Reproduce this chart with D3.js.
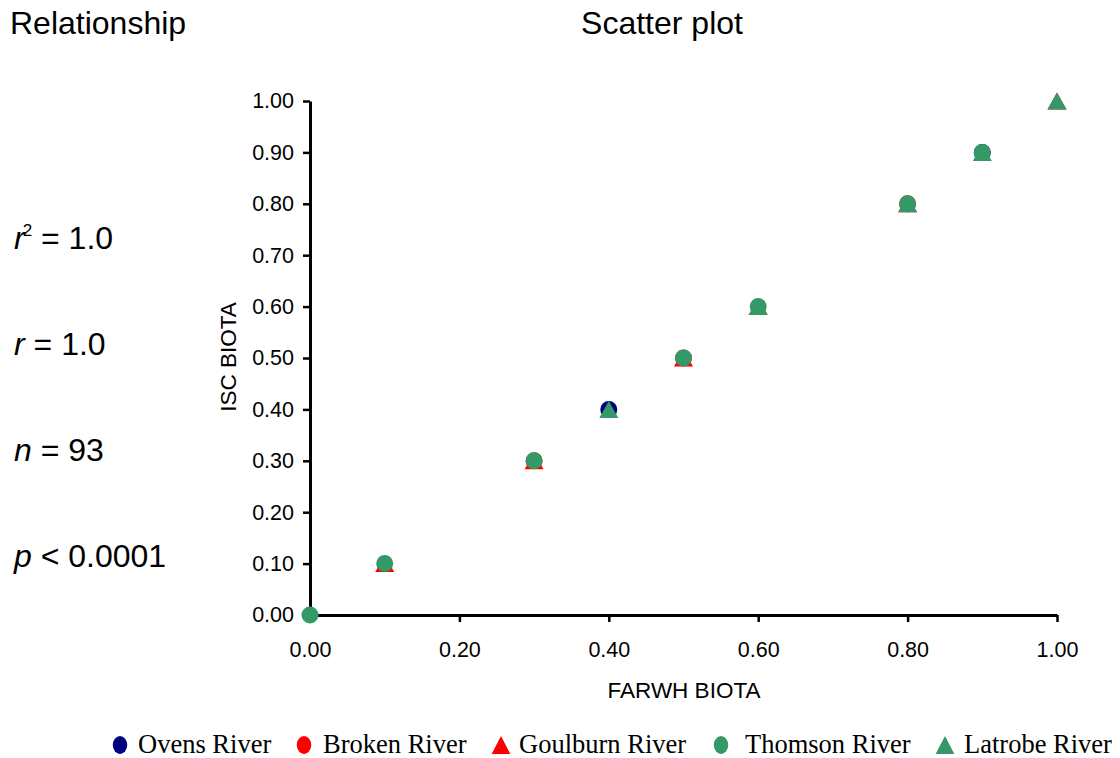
<!DOCTYPE html>
<html>
<head>
<meta charset="utf-8">
<script src="https://cdn.jsdelivr.net/npm/d3@7"></script>
<style>
  html, body { margin: 0; padding: 0; background: #fff; }
  svg { display: block; }
</style>
</head>
<body>
<svg id="chart" width="1120" height="758"></svg>
<script>
// Paired FARWH / ISC biota scores per river
const seriesNames = ["Ovens River", "Broken River", "Goulburn River", "Thomson River", "Latrobe River"];
const ovensX = [0.40, 0.90];
const ovensY = [0.40, 0.90];
const brokenX = [0.30, 0.50, 0.80];
const brokenY = [0.30, 0.50, 0.80];
const goulburnX = [0.10, 0.30, 0.50, 0.60, 0.80, 1.00];
const goulburnY = [0.10, 0.30, 0.50, 0.60, 0.80, 1.00];
const thomsonX = [0.00, 0.10, 0.30, 0.50, 0.60, 0.80, 0.90];
const thomsonY = [0.00, 0.10, 0.30, 0.50, 0.60, 0.80, 0.90];
const latrobeX = [0.40, 0.60, 0.80, 0.90, 1.00];
const latrobeY = [0.40, 0.60, 0.80, 0.90, 1.00];

const xTicks = [0, 0.2, 0.4, 0.6, 0.8, 1.0];
const yTicks = [0, 0.1, 0.2, 0.3, 0.4, 0.5, 0.6, 0.7, 0.8, 0.9, 1.0];

const stats = [
  { sym: "r", sup: "2", rest: " = 1.0" },
  { sym: "r", sup: "", rest: " = 1.0" },
  { sym: "n", sup: "", rest: " = 93" },
  { sym: "p", sup: "", rest: " < 0.0001" }
];

const series = [
  { name: seriesNames[0], xs: ovensX, ys: ovensY, shape: "circle", color: "#000080" },
  { name: seriesNames[1], xs: brokenX, ys: brokenY, shape: "circle", color: "#ff0000" },
  { name: seriesNames[2], xs: goulburnX, ys: goulburnY, shape: "triangle", color: "#ff0000" },
  { name: seriesNames[3], xs: thomsonX, ys: thomsonY, shape: "circle", color: "#339966" },
  { name: seriesNames[4], xs: latrobeX, ys: latrobeY, shape: "triangle", color: "#339966" }
];

const SANS = "'Liberation Sans', Arial, Helvetica, sans-serif";
const SERIF = "'Liberation Serif', 'Times New Roman', serif";

const svg = d3.select("#chart");

const plot = { left: 310, right: 1057, top: 101, bottom: 615 };
const x = d3.scaleLinear().domain([0, 1]).range([plot.left, plot.right]);
const y = d3.scaleLinear().domain([0, 1]).range([plot.bottom, plot.top]);

// Titles
svg.append("text").attr("x", 10).attr("y", 34)
  .style("font-family", SANS).style("font-size", "32px").attr("fill", "#000")
  .text("Relationship");
svg.append("text").attr("x", 662).attr("y", 34).attr("text-anchor", "middle")
  .style("font-family", SANS).style("font-size", "32px").attr("fill", "#000")
  .text("Scatter plot");

// Statistics block
const statY = [249, 355, 461, 567];
stats.forEach((s, i) => {
  const t = svg.append("text").attr("x", 14).attr("y", statY[i])
    .style("font-family", SANS).style("font-size", "32px").attr("fill", "#000");
  t.append("tspan").style("font-style", "italic").text(s.sym);
  if (s.sup) {
    t.append("tspan").attr("dx", -2).attr("dy", -13).style("font-size", "17px").text(s.sup);
    t.append("tspan").attr("dy", 13).text(s.rest);
  } else {
    t.append("tspan").text(s.rest);
  }
});

// Axes
const fmt = d3.format(".2f");
const gx = svg.append("g").attr("transform", `translate(0,${plot.bottom})`)
  .call(d3.axisBottom(x).tickValues(xTicks).tickFormat(fmt).tickSize(7).tickSizeOuter(0).tickPadding(20));
const gy = svg.append("g").attr("transform", `translate(${plot.left},0)`)
  .call(d3.axisLeft(y).tickValues(yTicks).tickFormat(fmt).tickSize(7).tickSizeOuter(0).tickPadding(9));

[gx, gy].forEach(g => {
  g.select(".domain").attr("stroke", "#000").attr("stroke-width", 3);
  g.selectAll(".tick line").attr("stroke", "#000").attr("stroke-width", 2.5);
  g.selectAll(".tick text").attr("fill", "#000")
    .style("font-family", SANS).style("font-size", "21.5px");
});

// Axis titles
svg.append("text").attr("x", 684).attr("y", 698).attr("text-anchor", "middle")
  .style("font-family", SANS).style("font-size", "22.5px").attr("fill", "#000")
  .text("FARWH BIOTA");
svg.append("text").attr("transform", "translate(236,357) rotate(-90)").attr("text-anchor", "middle")
  .style("font-family", SANS).style("font-size", "22.5px").attr("fill", "#000")
  .text("ISC BIOTA");

// Marker symbols
const circleSym = d3.symbol().type(d3.symbolCircle).size(Math.PI * 8.5 * 8.5);
function triPath(w, h) {
  return `M0,${-h / 2}L${w / 2},${h / 2}L${-w / 2},${h / 2}Z`;
}

const marks = svg.append("g");
series.forEach(s => {
  const pts = s.xs.map((v, i) => [v, s.ys[i]]);
  marks.append("g").selectAll("path").data(pts).join("path")
    .attr("transform", d => `translate(${x(d[0])},${y(d[1])})`)
    .attr("d", s.shape === "circle" ? circleSym() : triPath(19, 17))
    .attr("fill", s.color);
});

// Legend
const legendX = [120, 304, 501, 721, 945];
const legendTextX = [138, 323, 519, 745, 964];
const legend = svg.append("g");
series.forEach((s, i) => {
  legend.append("path")
    .attr("transform", `translate(${legendX[i]},745) scale(0.85,1.05)`)
    .attr("d", s.shape === "circle" ? d3.symbol().type(d3.symbolCircle).size(Math.PI * 8.5 * 8.5)() : triPath(22, 17))
    .attr("fill", s.color);
  legend.append("text").attr("x", legendTextX[i]).attr("y", 753)
    .style("font-family", SERIF).style("font-size", "26.5px").attr("fill", "#000")
    .text(s.name);
});
</script>
</body>
</html>
